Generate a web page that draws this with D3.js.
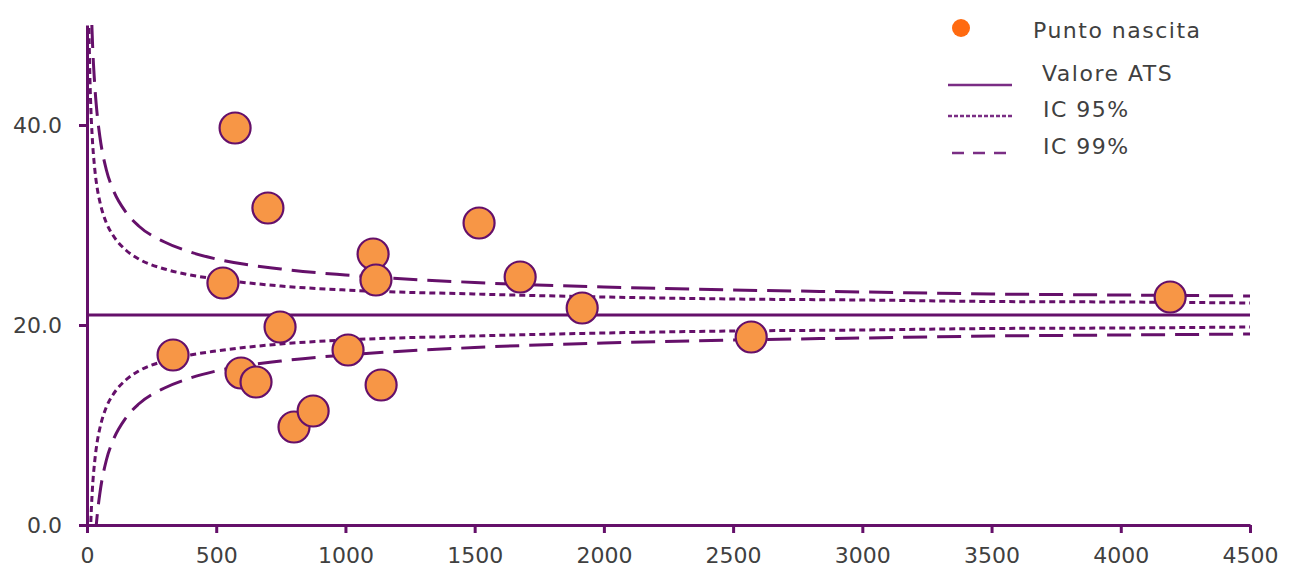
<!DOCTYPE html>
<html>
<head>
<meta charset="utf-8">
<script src="https://cdn.jsdelivr.net/npm/d3@7"></script>
<style>
  body { margin: 0; background: #fff; }
  svg text { font-family: "DejaVu Sans", sans-serif; fill: #404040; }
</style>
</head>
<body>
<svg id="chart" width="1296" height="571"></svg>
<script>
// births per point (x) and rate (y)
var parti = [333, 526, 573, 596, 654, 700, 747, 801, 875, 1010, 1107, 1118, 1138, 1517, 1676, 1916, 2570, 4191];
var tasso = [17.0, 24.2, 39.7, 15.2, 14.3, 31.7, 19.8, 9.8, 11.4, 17.5, 27.1, 24.5, 14.0, 30.2, 24.8, 21.7, 18.8, 22.8];

var valoreAts = 21.0;

// funnel limits
var nLimiti = [5, 8, 10, 15, 20, 30, 40, 50, 75, 100, 150, 200, 300, 400, 500, 750, 1000, 1500, 2000, 2500, 3000, 3500, 4000, 4500];
var ic95sup = [56.7, 49.2, 46.2, 41.6, 38.9, 35.6, 33.6, 32.3, 30.2, 29.0, 27.5, 26.6, 25.6, 25.0, 24.6, 23.9, 23.5, 23.1, 22.8, 22.6, 22.5, 22.35, 22.3, 22.2];
var ic95inf = [-14.7, -7.2, -4.2, 0.4, 3.2, 6.4, 8.4, 9.7, 11.8, 13.0, 14.5, 15.4, 16.4, 17.0, 17.4, 18.1, 18.5, 18.9, 19.2, 19.4, 19.5, 19.65, 19.7, 19.8];
var ic99sup = [77.3, 65.5, 60.8, 53.5, 49.1, 44.0, 40.9, 38.8, 35.5, 33.6, 31.3, 29.9, 28.3, 27.3, 26.6, 25.6, 25.0, 24.25, 23.8, 23.5, 23.3, 23.1, 23.0, 22.9];
var ic99inf = [-35.3, -23.5, -18.8, -11.5, -7.1, -2.0, 1.1, 3.2, 6.5, 8.4, 10.7, 12.1, 13.7, 14.7, 15.4, 16.4, 17.0, 17.75, 18.2, 18.5, 18.7, 18.9, 19.0, 19.1];

var xTicks = [0, 500, 1000, 1500, 2000, 2500, 3000, 3500, 4000, 4500];
var yTicks = [0, 20, 40];

var legendLabels = ["Punto nascita", "Valore ATS", "IC 95%", "IC 99%"];

var viola = "#65106a";
var svg = d3.select("#chart");

var x = d3.scaleLinear().domain([0, 4500]).range([87, 1250]);
var y = d3.scaleLinear().domain([0, 50]).range([525, 25]);

svg.append("clipPath").attr("id", "area")
    .append("rect")
    .attr("x", x(0)).attr("y", y(50))
    .attr("width", x(4500) - x(0)).attr("height", y(0) - y(50));

var linea = d3.line()
    .x(function(d) { return x(d[0]); })
    .y(function(d) { return y(d[1]); })
    .curve(d3.curveMonotoneX);

var curve = [
    { v: ic95sup, dash: "6,4" },
    { v: ic95inf, dash: "6,4" },
    { v: ic99sup, dash: "24,10" },
    { v: ic99inf, dash: "24,10" }
];

var plot = svg.append("g").attr("clip-path", "url(#area)");

curve.forEach(function(c) {
    plot.append("path")
        .datum(d3.zip(nLimiti, c.v))
        .attr("d", linea)
        .attr("fill", "none")
        .attr("stroke", viola)
        .attr("stroke-width", 3)
        .attr("stroke-dasharray", c.dash);
});

// valore ATS
plot.append("path")
    .datum([[0, valoreAts], [4500, valoreAts]])
    .attr("d", linea)
    .attr("fill", "none")
    .attr("stroke", viola)
    .attr("stroke-width", 3);

// axes
var xAxis = svg.append("g")
    .attr("transform", "translate(0," + y(0) + ")")
    .call(d3.axisBottom(x).tickValues(xTicks).tickSize(8).tickSizeOuter(0).tickPadding(14)
        .tickFormat(d3.format("d")));
var yAxis = svg.append("g")
    .attr("transform", "translate(" + x(0) + ",0)")
    .call(d3.axisLeft(y).tickValues(yTicks).tickSize(8).tickSizeOuter(0).tickPadding(17)
        .tickFormat(d3.format(".1f")));

[xAxis, yAxis].forEach(function(a) {
    a.select(".domain").attr("stroke", viola).attr("stroke-width", 3);
    a.selectAll(".tick line").attr("stroke", viola).attr("stroke-width", 3);
    a.selectAll(".tick text").attr("font-size", 22).attr("fill", "#404040")
        .attr("font-family", "DejaVu Sans, sans-serif");
});

// points
svg.append("g").selectAll("circle")
    .data(d3.zip(parti, tasso))
    .join("circle")
    .attr("cx", function(d) { return x(d[0]); })
    .attr("cy", function(d) { return y(d[1]); })
    .attr("r", 15.5)
    .attr("fill", "#f79646")
    .attr("stroke", viola)
    .attr("stroke-width", 2.2);

// legend
var leg = svg.append("g");
leg.append("circle").attr("cx", 961).attr("cy", 28).attr("r", 9).attr("fill", "#ff6a10");
leg.append("line").attr("x1", 948).attr("x2", 1012).attr("y1", 85).attr("y2", 85)
    .attr("stroke", "#7a2d84").attr("stroke-width", 2.5);
leg.append("line").attr("x1", 948).attr("x2", 1012).attr("y1", 116).attr("y2", 116)
    .attr("stroke", "#7a2d84").attr("stroke-width", 2.5).attr("stroke-dasharray", "4,2");
leg.append("line").attr("x1", 952).attr("x2", 1012).attr("y1", 153).attr("y2", 153)
    .attr("stroke", "#7a2d84").attr("stroke-width", 2.5).attr("stroke-dasharray", "12,9");

var legPos = [[1033, 38], [1042, 81], [1043, 117], [1043, 154]];
leg.selectAll("text.lab")
    .data(legendLabels)
    .join("text")
    .attr("class", "lab")
    .attr("x", function(d, i) { return legPos[i][0]; })
    .attr("y", function(d, i) { return legPos[i][1]; })
    .attr("font-size", 22)
    .attr("letter-spacing", 1.5)
    .text(function(d) { return d; });
</script>
</body>
</html>
